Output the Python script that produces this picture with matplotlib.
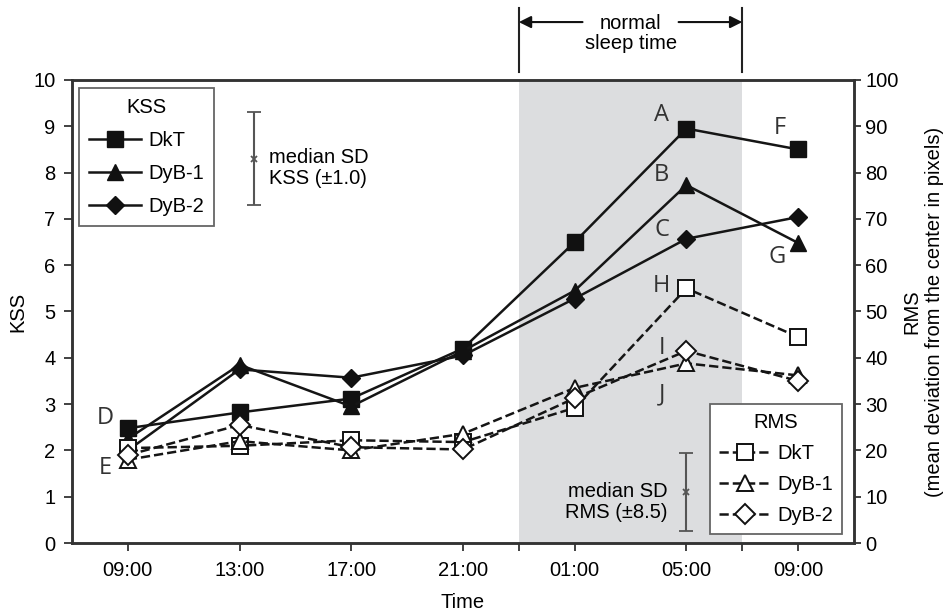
import numpy as np
import matplotlib
matplotlib.use('Agg')
import matplotlib.pyplot as plt
import matplotlib.transforms as mtransforms

plt.rcParams['font.family'] = ['Liberation Sans', 'DejaVu Sans']
plt.rcParams['font.size'] = 14.5

times = ['09:00', '13:00', '17:00', '21:00', '01:00', '05:00', '09:00']

# KSS (left axis)
kss_dkt = [2.48, 2.82, 3.12, 4.2, 6.5, 8.95, 8.5]
kss_dyb1 = [2.25, 3.85, 2.95, 4.15, 5.45, 7.73, 6.48]
kss_dyb2 = [2.0, 3.75, 3.57, 4.05, 5.28, 6.57, 7.04]

# RMS (right axis, pixels)
rms_dkt = [20.5, 21.0, 22.2, 21.8, 29.2, 55.0, 44.5]
rms_dyb1 = [18.0, 22.0, 20.0, 23.6, 33.5, 38.8, 36.2]
rms_dyb2 = [19.0, 25.5, 20.7, 20.2, 31.3, 41.5, 35.0]

letters = ['A', 'B', 'C', 'D', 'E', 'F', 'G', 'H', 'I', 'J']
letter_pos = [(4.78, 9.25), (4.78, 7.95), (4.78, 6.76), (-0.2, 2.7), (-0.2, 1.62),
              (5.84, 8.97), (5.81, 6.18), (4.78, 5.55), (4.78, 4.22), (4.78, 3.2)]

sleep_span = (3.5, 5.5)

x = np.arange(len(times))
line_c = '#151515'

fig = plt.figure(figsize=(9.51, 6.15), dpi=100)
ax = fig.add_axes([0.0757, 0.117, 0.8223, 0.753])
ax2 = ax.twinx()

ax.axvspan(*sleep_span, color='#dcdddf', lw=0, zorder=0)

l1, = ax.plot(x, kss_dkt, '-', color=line_c, lw=1.8, marker='s', ms=11, mfc='#111', mec='#111', label='DkT')
l2, = ax.plot(x, kss_dyb1, '-', color=line_c, lw=1.8, marker='^', ms=11, mfc='#111', mec='#111', label='DyB-1')
l3, = ax.plot(x, kss_dyb2, '-', color=line_c, lw=1.8, marker='D', ms=9, mfc='#111', mec='#111', label='DyB-2')

r1, = ax2.plot(x, rms_dkt, '--', color=line_c, lw=1.8, marker='s', ms=12, mfc='white', mec='#111', mew=1.4, label='DkT')
r2, = ax2.plot(x, rms_dyb1, '--', color=line_c, lw=1.8, marker='^', ms=12, mfc='white', mec='#111', mew=1.4, label='DyB-1')
r3, = ax2.plot(x, rms_dyb2, '--', color=line_c, lw=1.8, marker='D', ms=10, mfc='white', mec='#111', mew=1.4, label='DyB-2')

# median SD bars
ax.errorbar([1.125], [8.3], yerr=[1.0], color='#555', lw=1.5, capsize=5, capthick=1.5,
            marker='x', ms=5, mew=1.3)
ax.text(1.26, 8.1, 'median SD\nKSS (±1.0)', ha='left', va='center', linespacing=1.1)
ax2.errorbar([5.0], [11.0], yerr=[8.5], color='#555', lw=1.5, capsize=5, capthick=1.5,
             marker='x', ms=5, mew=1.3)
ax2.text(4.83, 8.9, 'median SD\nRMS (±8.5)', ha='right', va='center', linespacing=1.1)

for lab, (lx, ly) in zip(letters, letter_pos):
    ax.text(lx, ly, lab, family='Open Sans', fontsize=17, color='#333', ha='center', va='center')

ax.set_xlim(-0.5, 6.5)
ax.set_ylim(0, 10)
ax2.set_ylim(0, 100)
ax.set_xticks(x)
ax.set_xticklabels(times)
ax.set_xticks(list(sleep_span), minor=True)
ax.set_yticks(range(0, 11))
ax2.set_yticks(range(0, 101, 10))

for a in (ax, ax2):
    for s in a.spines.values():
        s.set_linewidth(1.8)
        s.set_color('#333')
ax.tick_params(axis='both', which='both', direction='out', length=6, width=1.3, color='#333')
ax.tick_params(axis='x', pad=7)
ax.tick_params(axis='y', pad=6)
ax2.tick_params(axis='y', direction='out', length=5, width=1.3, color='#333', pad=3)

ax.set_xlabel('Time', labelpad=9)
ax.set_ylabel('KSS', labelpad=4)
ax2.set_ylabel('RMS\n(mean deviation from the center in pixels)', labelpad=3, linespacing=1.2)

leg1 = ax.legend(handles=[l1, l2, l3], title='KSS', loc='upper left', bbox_to_anchor=(0.009, 0.983),
                 borderaxespad=0, fancybox=False, edgecolor='#666', framealpha=1,
                 handlelength=2.6, labelspacing=0.7, handletextpad=0.35, borderpad=0.5,
                 title_fontsize=14.5)
leg1.get_frame().set_linewidth(1.3)
leg2 = ax2.legend(handles=[r1, r2, r3], title='RMS', loc='lower right', bbox_to_anchor=(0.985, 0.019),
                  borderaxespad=0, fancybox=False, edgecolor='#666', framealpha=1,
                  handlelength=2.6, labelspacing=0.6, handletextpad=0.3, borderpad=0.45,
                  title_fontsize=14.5)
leg2.get_frame().set_linewidth(1.3)

# normal sleep time marker above the axes
trans = mtransforms.blended_transform_factory(ax.transData, ax.transAxes)
for xs in sleep_span:
    ax.plot([xs, xs], [1.017, 1.155], color='#222', lw=1.5, transform=trans, clip_on=False)
ax.annotate('', xy=(3.5, 1.125), xytext=(4.07, 1.125), xycoords=trans, textcoords=trans,
            arrowprops=dict(arrowstyle='-|>', mutation_scale=18, color='#111', lw=1.5, shrinkA=0, shrinkB=0))
ax.annotate('', xy=(5.5, 1.125), xytext=(4.93, 1.125), xycoords=trans, textcoords=trans,
            arrowprops=dict(arrowstyle='-|>', mutation_scale=18, color='#111', lw=1.5, shrinkA=0, shrinkB=0))
ax.text(4.5, 1.10, 'normal\nsleep time', transform=trans, ha='center', va='center', linespacing=1.05)

plt.savefig('out.png', dpi=100)
